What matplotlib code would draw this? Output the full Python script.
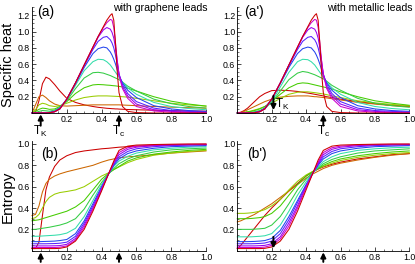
import matplotlib
matplotlib.use("Agg")
import matplotlib.pyplot as plt
from matplotlib.ticker import MultipleLocator

plt.rcParams['font.family'] = ['Liberation Sans', 'DejaVu Sans']
plt.rcParams['mathtext.fontset'] = 'custom'
plt.rcParams['mathtext.rm'] = 'Liberation Sans'
plt.rcParams['mathtext.it'] = 'Liberation Sans'

# temperature grids (T / T0)
t_heat = [0, .02, .04, .06, .08, .1, .13, .16, .2, .25, .3, .35, .38, .41, .43, .45,
          .46, .47, .48, .49, .5, .52, .55, .6, .7, .8, .9, 1.0]
t_ent = [0, .02, .04, .06, .08, .1, .13, .16, .2, .25, .3, .35, .4, .44, .47, .5,
         .55, .6, .7, .8, .9, 1.0]

# specific heat, graphene leads (curve 0 = weakest coupling ... curve 10 = strongest)
heat_graphene = [
    [0, 0, 0, 0, 0, .003, .015, .05, .17, .37, .59, .81, .94, 1.06, 1.14, 1.2, 1.22, 1.14, .85, .5, .25, .08, .02, .005, 0, 0, 0, 0],
    [0, 0, 0, 0, 0, .003, .015, .05, .17, .37, .59, .81, .94, 1.05, 1.11, 1.15, 1.14, 1.05, .86, .64, .47, .3, .18, .08, .025, .01, .005, .003],
    [0, 0, 0, 0, 0, .003, .016, .05, .17, .37, .59, .8, .93, 1.02, 1.05, 1.03, .99, .92, .8, .64, .48, .32, .21, .11, .04, .02, .01, .006],
    [0, 0, 0, 0, .001, .004, .018, .055, .17, .37, .58, .78, .88, .93, .94, .9, .86, .8, .71, .6, .48, .35, .24, .14, .06, .03, .02, .012],
    [0, 0, 0, .001, .002, .006, .02, .06, .17, .36, .56, .73, .79, .81, .8, .75, .71, .66, .6, .53, .46, .37, .28, .19, .09, .05, .03, .02],
    [0, 0, .002, .005, .007, .01, .027, .065, .16, .34, .52, .63, .66, .655, .63, .59, .56, .53, .5, .47, .44, .38, .31, .23, .13, .08, .055, .04],
    [0, .005, .02, .03, .027, .022, .035, .07, .15, .3, .43, .495, .5, .49, .475, .46, .45, .44, .43, .42, .41, .38, .33, .27, .17, .115, .08, .06],
    [0, .02, .045, .06, .055, .045, .05, .08, .14, .24, .31, .345, .35, .347, .343, .34, .337, .335, .333, .33, .327, .32, .305, .27, .2, .145, .11, .085],
    [0, .04, .1, .12, .11, .09, .08, .09, .12, .16, .19, .205, .21, .21, .21, .208, .207, .206, .205, .204, .203, .2, .195, .18, .15, .12, .1, .085],
    [0, .1, .2, .22, .19, .15, .11, .09, .085, .09, .095, .1, .1, .1, .1, .1, .1, .1, .1, .1, .1, .098, .095, .09, .08, .072, .065, .06],
    [0, .01, .15, .36, .44, .42, .35, .27, .18, .13, .1, .08, .07, .063, .058, .055, .053, .052, .05, .05, .048, .046, .043, .04, .034, .03, .025, .022],
]

# specific heat, metallic leads
heat_metal = [
    [0, 0, 0, 0, 0, .003, .015, .05, .17, .37, .59, .81, .94, 1.06, 1.14, 1.2, 1.22, 1.14, .85, .5, .25, .08, .02, .005, 0, 0, 0, 0],
    [0, 0, 0, 0, 0, .003, .015, .05, .17, .37, .59, .81, .94, 1.05, 1.11, 1.15, 1.14, 1.05, .86, .64, .47, .3, .18, .08, .025, .01, .005, .003],
    [0, 0, 0, 0, 0, .003, .016, .05, .17, .37, .59, .8, .93, 1.02, 1.05, 1.03, .99, .92, .8, .64, .48, .32, .21, .11, .04, .02, .01, .006],
    [0, 0, 0, 0, .001, .004, .018, .055, .17, .37, .58, .78, .88, .93, .94, .9, .86, .8, .71, .6, .48, .35, .24, .14, .06, .03, .02, .012],
    [0, 0, 0, .001, .002, .006, .02, .06, .17, .36, .56, .73, .79, .81, .8, .75, .71, .66, .6, .53, .46, .37, .28, .19, .09, .05, .03, .02],
    [0, 0, .001, .002, .004, .008, .02, .05, .14, .32, .5, .63, .66, .655, .63, .59, .56, .53, .5, .47, .44, .38, .31, .23, .13, .08, .055, .04],
    [0, .001, .003, .006, .01, .016, .03, .06, .13, .27, .41, .49, .51, .5, .485, .47, .46, .45, .44, .43, .42, .39, .34, .28, .18, .12, .09, .07],
    [0, .002, .006, .012, .02, .03, .05, .08, .14, .23, .31, .36, .37, .365, .355, .345, .34, .335, .33, .325, .32, .31, .295, .26, .2, .15, .12, .095],
    [0, .003, .008, .015, .025, .037, .055, .08, .12, .18, .23, .255, .26, .26, .255, .25, .247, .244, .24, .237, .234, .225, .21, .19, .15, .125, .105, .09],
    [0, .005, .02, .04, .06, .08, .11, .14, .17, .195, .205, .21, .21, .21, .205, .2, .2, .197, .195, .193, .19, .185, .175, .16, .13, .11, .09, .08],
    [0, .01, .03, .06, .1, .14, .2, .24, .275, .28, .275, .265, .255, .245, .238, .23, .226, .222, .218, .214, .21, .2, .19, .17, .14, .115, .095, .08],
]

# entropy, graphene leads
ent_graphene = [
    [.02, .02, .02, .02, .02, .02, .02, .022, .035, .09, .2, .37, .56, .72, .84, .94, .98, .99, .995, .998, 1, 1],
    [.03, .03, .03, .03, .03, .03, .03, .033, .045, .1, .22, .39, .57, .72, .83, .92, .965, .98, .99, .995, .997, .998],
    [.045, .045, .045, .045, .045, .045, .046, .048, .06, .115, .24, .4, .58, .72, .82, .9, .95, .97, .985, .99, .993, .995],
    [.065, .065, .065, .065, .065, .066, .067, .07, .08, .135, .26, .42, .59, .72, .81, .88, .93, .955, .975, .985, .99, .99],
    [.085, .085, .085, .086, .087, .088, .09, .095, .105, .16, .28, .44, .6, .72, .8, .86, .91, .935, .96, .975, .98, .985],
    [.135, .135, .136, .138, .14, .142, .145, .15, .165, .21, .32, .47, .62, .72, .79, .84, .885, .915, .945, .96, .97, .975],
    [.2, .2, .205, .21, .215, .22, .23, .24, .26, .3, .39, .52, .64, .72, .77, .815, .86, .89, .925, .945, .955, .962],
    [.28, .285, .29, .3, .31, .32, .335, .35, .37, .41, .47, .57, .67, .725, .76, .79, .84, .87, .905, .925, .94, .95],
    [.3, .31, .34, .4, .46, .5, .53, .545, .555, .57, .6, .65, .7, .73, .76, .785, .825, .855, .895, .915, .93, .94],
    [.33, .34, .42, .55, .63, .67, .7, .72, .74, .76, .78, .8, .83, .85, .86, .87, .88, .885, .9, .915, .925, .935],
    [.02, .02, .08, .33, .57, .69, .79, .85, .89, .92, .935, .945, .955, .96, .965, .97, .975, .98, .985, .99, .995, .997],
]

# entropy, metallic leads
ent_metal = [
    [.02, .02, .02, .02, .02, .02, .02, .022, .035, .09, .2, .37, .57, .73, .85, .94, .98, .99, .995, .998, 1, 1],
    [.03, .03, .03, .03, .03, .03, .03, .034, .05, .11, .23, .4, .59, .73, .83, .92, .965, .98, .99, .995, .997, .998],
    [.045, .045, .045, .045, .045, .045, .047, .05, .065, .13, .26, .42, .6, .73, .82, .9, .95, .97, .985, .99, .993, .995],
    [.065, .065, .065, .065, .065, .066, .068, .072, .09, .16, .29, .45, .61, .73, .81, .88, .93, .955, .975, .985, .99, .99],
    [.085, .085, .085, .085, .086, .087, .09, .095, .115, .19, .32, .47, .62, .73, .8, .86, .91, .935, .96, .975, .98, .985],
    [.13, .13, .13, .13, .13, .132, .135, .14, .16, .24, .37, .52, .645, .73, .785, .835, .88, .91, .94, .955, .965, .97],
    [.2, .2, .2, .2, .2, .202, .205, .21, .24, .32, .44, .57, .67, .735, .775, .815, .855, .88, .915, .935, .945, .955],
    [.3, .3, .3, .3, .302, .305, .31, .32, .35, .42, .52, .62, .7, .74, .77, .8, .835, .86, .89, .91, .925, .935],
    [.35, .35, .35, .352, .355, .36, .37, .385, .42, .48, .57, .65, .71, .745, .77, .79, .82, .845, .875, .895, .91, .92],
    [.27, .28, .295, .31, .325, .34, .37, .4, .44, .5, .56, .62, .68, .72, .745, .77, .8, .82, .85, .875, .895, .91],
    [.02, .05, .09, .13, .17, .21, .27, .33, .4, .48, .56, .63, .7, .74, .765, .785, .81, .83, .86, .88, .9, .91],
]

# marked temperatures
tk_graphene = 0.05
tk_metal = 0.21
tc = 0.5

colors = ['#cc0000', '#cc00cc', '#9900ee', '#5522ff', '#2244ee', '#33ddaa',
          '#33cc44', '#44cc00', '#99cc00', '#cc6600', '#cc0000']

fig = plt.figure(figsize=(4.15, 2.64), dpi=100)
W, H = 415.0, 264.0
ax_a = fig.add_axes([32 / W, 1 - 113 / H, 174 / W, 1.3 * 81.4 / H])
ax_a2 = fig.add_axes([237.3 / W, 1 - 113 / H, 172 / W, 1.3 * 81.4 / H])
ax_b = fig.add_axes([32 / W, 1 - 250.7 / H, 174 / W, 1.03 * 106.7 / H])
ax_b2 = fig.add_axes([237.3 / W, 1 - 250.7 / H, 172 / W, 1.03 * 106.7 / H])


def style(ax, ymax, yticks):
    ax.set_xlim(0, 1.0)
    ax.set_ylim(0, ymax)
    for s in ['top', 'right']:
        ax.spines[s].set_visible(False)
    for s in ['left', 'bottom']:
        ax.spines[s].set_linewidth(0.6)
    ax.set_xticks([0.2, 0.4, 0.6, 0.8, 1.0])
    ax.set_xticklabels(['0.2', '0.4', '0.6', '0.8', '1.0'])
    ax.set_yticks(yticks)
    ax.set_yticklabels(['%.1f' % v for v in yticks])
    ax.xaxis.set_minor_locator(MultipleLocator(0.05))
    ax.yaxis.set_minor_locator(MultipleLocator(0.05))
    ax.tick_params(which='major', direction='in', length=3, width=0.5, labelsize=6.3, pad=1.5)
    ax.tick_params(which='minor', direction='in', length=1.5, width=0.4)


def arrow(ax, x, y0, y1):
    ax.annotate('', xy=(x, y1), xytext=(x, y0), annotation_clip=False,
                arrowprops=dict(arrowstyle='-|>', color='k', lw=1.4,
                                mutation_scale=7.5, shrinkA=0, shrinkB=0))


for ax, curves in [(ax_a, heat_graphene), (ax_a2, heat_metal)]:
    for i in range(len(curves) - 1, -1, -1):
        ax.plot(t_heat, curves[i], color=colors[i], lw=0.75, clip_on=False)
    style(ax, 1.3, [0.2, 0.4, 0.6, 0.8, 1.0, 1.2])

for ax, curves in [(ax_b, ent_graphene), (ax_b2, ent_metal)]:
    for i in range(len(curves) - 1, -1, -1):
        ax.plot(t_ent, curves[i], color=colors[i], lw=0.75, clip_on=False)
    style(ax, 1.03, [0.2, 0.4, 0.6, 0.8, 1.0])

# panel (a)
ax_a.text(0.03, 1.24, '(a)', fontsize=10, va='center', ha='left')
ax_a.text(1.01, 1.29, 'with graphene leads', fontsize=7.6, va='center', ha='right')
arrow(ax_a, tk_graphene, -0.156, -0.016)
arrow(ax_a, tc, -0.156, -0.016)
ax_a.text(tk_graphene, -0.225, r'T$_{\rm K}$', fontsize=8.5, ha='center', va='center')
ax_a.text(tc, -0.225, r'T$_{\rm c}$', fontsize=8.5, ha='center', va='center')

# panel (a')
ax_a2.text(0.04, 1.24, "(a')", fontsize=10, va='center', ha='left')
ax_a2.text(1.02, 1.29, 'with metallic leads', fontsize=7.6, va='center', ha='right')
arrow(ax_a2, tk_metal, 0.21, 0.035)
ax_a2.text(tk_metal + 0.012, 0.1, r'T$_{\rm K}$', fontsize=8.5, ha='left', va='center')
arrow(ax_a2, tc, -0.156, -0.016)
ax_a2.text(tc, -0.225, r'T$_{\rm c}$', fontsize=8.5, ha='center', va='center')

# panel (b)
ax_b.text(0.055, 0.91, '(b)', fontsize=10, va='center', ha='left')
arrow(ax_b, tk_graphene, -0.105, -0.015)
arrow(ax_b, tc, -0.105, -0.015)

# panel (b')
ax_b2.text(0.055, 0.91, "(b')", fontsize=10, va='center', ha='left')
arrow(ax_b2, tk_metal, 0.13, 0.022)
arrow(ax_b2, tc, -0.105, -0.015)

fig.text(8 / W, 1 - 65 / H, 'Specific heat', rotation=90, fontsize=10.5, ha='center', va='center')
fig.text(8 / W, 1 - 197 / H, 'Entropy', rotation=90, fontsize=11, ha='center', va='center')

fig.savefig('out.png', dpi=100)
